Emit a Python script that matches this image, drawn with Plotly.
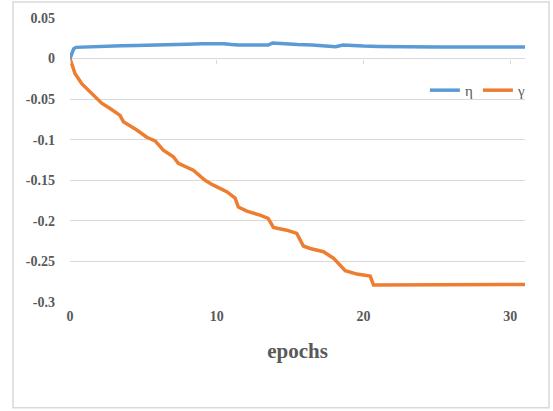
import plotly.graph_objects as go

# ---- data ----
eta_x = [0, 0.1, 0.25, 0.4, 0.8, 1.5, 2.5, 3.5, 4.5, 5.5, 6.5, 7.0, 8.0, 9.0, 10.0,
         10.5, 11.0, 11.5, 12.5, 13.5, 13.8, 14.5, 15.5, 16.5, 17.5, 18.1, 18.6,
         19.2, 20.0, 21.0, 22.0, 23.0, 25.0, 27.0, 29.0, 31.0]
eta_y = [0, 0.006, 0.012, 0.0138, 0.0142, 0.0148, 0.0152, 0.0158, 0.0162, 0.0168,
         0.0172, 0.0182, 0.0178, 0.0182, 0.0188, 0.0182, 0.0172, 0.0166, 0.0168,
         0.0166, 0.0192, 0.0180, 0.0172, 0.0166, 0.0158, 0.0146, 0.0166, 0.0158,
         0.0154, 0.0150, 0.0146, 0.0144, 0.0143, 0.0144, 0.0143, 0.0143]

gamma_x = [0, 0.34, 0.8, 1.48, 2.16, 2.73, 3.41, 3.64, 4.55, 5.23, 5.8, 6.36, 7.04,
           7.38, 8.18, 8.4, 9.2, 9.77, 10.68, 11.25, 11.47, 12.05, 12.95, 13.5,
           13.86, 14.77, 15.45, 15.8, 15.9, 16.36, 17.27, 17.95, 18.4, 18.75,
           19.55, 20.45, 20.68, 23.2, 26.0, 29.0, 31.0]
gamma_y = [0, -0.0185, -0.031, -0.043, -0.055, -0.0616, -0.070, -0.078, -0.088,
           -0.097, -0.1015, -0.113, -0.121, -0.129, -0.1355, -0.1375, -0.150,
           -0.156, -0.164, -0.172, -0.183, -0.188, -0.193, -0.197, -0.208,
           -0.2115, -0.2155, -0.228, -0.231, -0.234, -0.238, -0.246, -0.2545,
           -0.2615, -0.2656, -0.268, -0.279, -0.279, -0.2785, -0.279, -0.2785]

y_tickvals = [0.05, 0, -0.05, -0.1, -0.15, -0.2, -0.25, -0.3]
y_ticktext = ["0.05", "0", "-0.05", "-0.1", "-0.15", "-0.2", "-0.25", "-0.3"]
x_tickvals = [0, 10, 20, 30]

FONT = "Liberation Serif"
GRAY = "#595959"
GRID = "#d9d9d9"

fig = go.Figure()
fig.add_trace(go.Scatter(x=eta_x, y=eta_y, mode="lines", name="η",
                         line=dict(color="#5B9BD5", width=3.5)))
fig.add_trace(go.Scatter(x=gamma_x, y=gamma_y, mode="lines", name="γ",
                         line=dict(color="#ED7D31", width=3.5)))
# invisible helper trace so the zero-crossing tick axis is drawn
fig.add_trace(go.Scatter(x=[0, 31], y=[0, 0], xaxis="x2", mode="lines",
                         line=dict(width=0), opacity=0, showlegend=False,
                         hoverinfo="skip"))

y_lo, y_hi = -0.3, 0.05
zero_pos = (0 - y_lo) / (y_hi - y_lo)

fig.update_layout(
    width=553, height=411,
    margin=dict(l=70, r=28, t=18, b=109),
    paper_bgcolor="white", plot_bgcolor="white",
    font=dict(family=FONT, color=GRAY),
    showlegend=True,
    legend=dict(orientation="h", x=1.013, xanchor="right", y=0.745, yanchor="middle",
                font=dict(family=FONT, size=15, color=GRAY),
                bgcolor="rgba(0,0,0,0)", itemwidth=30, tracegroupgap=0),
    xaxis=dict(range=[0, 31], tickvals=x_tickvals, showgrid=False, zeroline=False,
               showline=False, ticks="", ticklabelstandoff=4,
               tickfont=dict(family=FONT, size=14, color=GRAY, weight="bold"),
               title=dict(text="epochs", standoff=20,
                          font=dict(family=FONT, size=21, color=GRAY, weight="bold"))),
    xaxis2=dict(range=[0, 31], overlaying="x", anchor="free", position=zero_pos,
                tickvals=x_tickvals, ticks="outside", ticklen=4, tickcolor=GRID,
                tickwidth=1, showticklabels=False, showgrid=False, zeroline=False,
                showline=False),
    yaxis=dict(range=[y_lo, y_hi], tickvals=y_tickvals, ticktext=y_ticktext,
               showgrid=True, gridcolor=GRID, gridwidth=1, zeroline=True,
               zerolinecolor=GRID, zerolinewidth=1, showline=False, ticks="",
               ticklabelstandoff=14,
               tickfont=dict(family=FONT, size=14, color=GRAY, weight="bold")),
    shapes=[dict(type="rect", xref="paper", yref="paper",
                 x0=(13 - 70) / 455, x1=(549 - 70) / 455,
                 y0=(302 - 408) / 284.5, y1=(302 - 1.5) / 284.5,
                 line=dict(color=GRID, width=1.5), fillcolor="rgba(0,0,0,0)",
                 layer="below")],
)

fig.write_html("out.html", config={"displayModeBar": False},
               post_script="document.body.style.margin='0';document.body.style.overflow='hidden';")
